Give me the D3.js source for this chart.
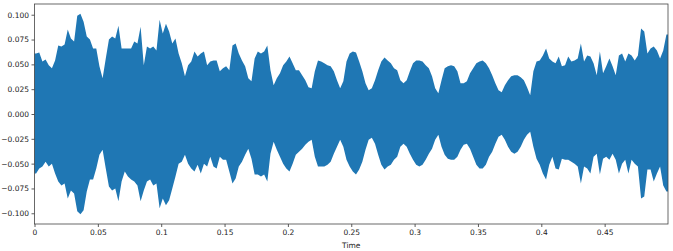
<!DOCTYPE html>
<html>
<head>
<meta charset="utf-8">
<script src="https://cdn.jsdelivr.net/npm/d3@7"></script>
<style>
  body { margin: 0; background: #fff; }
  svg text { font-family: 'DejaVu Sans', sans-serif; }
</style>
</head>
<body>
<div id="chart"></div>
<script>
// waveform envelope, one bin every 2.5 ms (0 .. 0.5 s)
var binSeconds = 0.0025
var upperEnv = [
  0.061, 0.062, 0.053, 0.055, 0.049, 0.046, 0.054, 0.069, 0.068, 0.070,
  0.085, 0.076, 0.073, 0.099, 0.101, 0.093, 0.078, 0.075, 0.066, 0.066,
  0.048, 0.036, 0.056, 0.075, 0.078, 0.076, 0.089, 0.066, 0.066, 0.066,
  0.066, 0.073, 0.071, 0.088, 0.049, 0.068, 0.066, 0.068, 0.064, 0.095,
  0.081, 0.091, 0.083, 0.071, 0.076, 0.061, 0.051, 0.038, 0.049, 0.053,
  0.063, 0.058, 0.061, 0.063, 0.049, 0.053, 0.054, 0.054, 0.043, 0.046,
  0.048, 0.044, 0.069, 0.071, 0.061, 0.054, 0.048, 0.036, 0.033, 0.056,
  0.063, 0.061, 0.063, 0.069, 0.044, 0.029, 0.036, 0.041, 0.049, 0.053,
  0.058, 0.051, 0.044, 0.044, 0.039, 0.034, 0.027, 0.026, 0.043, 0.054,
  0.053, 0.051, 0.049, 0.048, 0.043, 0.034, 0.026, 0.033, 0.053, 0.061,
  0.063, 0.062, 0.053, 0.043, 0.031, 0.024, 0.026, 0.034, 0.044, 0.053,
  0.057, 0.054, 0.051, 0.046, 0.044, 0.034, 0.031, 0.034, 0.043, 0.051,
  0.054, 0.054, 0.053, 0.049, 0.046, 0.038, 0.026, 0.021, 0.034, 0.046,
  0.048, 0.049, 0.048, 0.043, 0.031, 0.031, 0.033, 0.041, 0.046, 0.051,
  0.053, 0.054, 0.051, 0.046, 0.039, 0.031, 0.024, 0.022, 0.029, 0.034,
  0.038, 0.039, 0.039, 0.037, 0.034, 0.027, 0.019, 0.043, 0.053, 0.054,
  0.059, 0.066, 0.056, 0.053, 0.051, 0.058, 0.048, 0.049, 0.058, 0.053,
  0.054, 0.056, 0.071, 0.053, 0.059, 0.058, 0.051, 0.039, 0.063, 0.041,
  0.048, 0.056, 0.048, 0.039, 0.059, 0.061, 0.053, 0.061, 0.059, 0.054,
  0.059, 0.086, 0.083, 0.061, 0.066, 0.068, 0.064, 0.056, 0.064, 0.080
]
var lowerEnv = [
  -0.060, -0.055, -0.053, -0.048, -0.053, -0.050, -0.060, -0.068, -0.072, -0.070,
  -0.085, -0.077, -0.080, -0.098, -0.101, -0.097, -0.078, -0.066, -0.066, -0.055,
  -0.041, -0.036, -0.055, -0.073, -0.077, -0.075, -0.088, -0.068, -0.058, -0.063,
  -0.066, -0.068, -0.072, -0.088, -0.077, -0.068, -0.066, -0.072, -0.070, -0.095,
  -0.085, -0.092, -0.087, -0.075, -0.063, -0.050, -0.048, -0.041, -0.050, -0.055,
  -0.058, -0.051, -0.060, -0.050, -0.053, -0.043, -0.053, -0.055, -0.043, -0.046,
  -0.046, -0.058, -0.070, -0.065, -0.053, -0.048, -0.041, -0.035, -0.045, -0.061,
  -0.061, -0.063, -0.061, -0.068, -0.040, -0.028, -0.036, -0.043, -0.050, -0.055,
  -0.058, -0.050, -0.041, -0.038, -0.035, -0.031, -0.028, -0.026, -0.043, -0.053,
  -0.053, -0.053, -0.051, -0.048, -0.040, -0.033, -0.026, -0.033, -0.046, -0.053,
  -0.058, -0.061, -0.056, -0.048, -0.036, -0.026, -0.024, -0.030, -0.041, -0.051,
  -0.056, -0.053, -0.051, -0.046, -0.043, -0.033, -0.030, -0.033, -0.040, -0.046,
  -0.051, -0.053, -0.051, -0.046, -0.040, -0.035, -0.026, -0.021, -0.033, -0.041,
  -0.045, -0.046, -0.046, -0.043, -0.036, -0.031, -0.030, -0.035, -0.043, -0.051,
  -0.055, -0.055, -0.051, -0.043, -0.038, -0.030, -0.023, -0.021, -0.026, -0.033,
  -0.038, -0.040, -0.038, -0.033, -0.026, -0.021, -0.018, -0.033, -0.045, -0.051,
  -0.060, -0.066, -0.051, -0.043, -0.055, -0.056, -0.045, -0.046, -0.046, -0.048,
  -0.050, -0.053, -0.070, -0.053, -0.055, -0.060, -0.043, -0.040, -0.061, -0.045,
  -0.043, -0.046, -0.040, -0.046, -0.060, -0.050, -0.046, -0.060, -0.046, -0.050,
  -0.053, -0.085, -0.083, -0.056, -0.056, -0.068, -0.060, -0.053, -0.072, -0.078
]
var xTicks = [0, 0.05, 0.1, 0.15, 0.2, 0.25, 0.3, 0.35, 0.4, 0.45]
var yTicks = [-0.1, -0.075, -0.05, -0.025, 0, 0.025, 0.05, 0.075, 0.1]
var xLabel = 'Time'

var width = 673
var height = 251
var margin = { top: 4, right: 5, bottom: 27, left: 34.5 }
var duration = upperEnv.length * binSeconds

var svg = d3.select('#chart').append('svg')
  .attr('width', width)
  .attr('height', height)

var x = d3.scaleLinear()
  .domain([0, duration])
  .range([margin.left, width - margin.right])
var y = d3.scaleLinear()
  .domain([-0.1108, 0.1108])
  .range([height - margin.bottom, margin.top])

// each bin plotted at its centre, plus the two edges of the clip
var bins = upperEnv.map(function (u, i) {
  return { t: (i + 0.5) * binSeconds, hi: u, lo: lowerEnv[i] }
})
bins.unshift({ t: 0, hi: upperEnv[0], lo: lowerEnv[0] })
bins.push({ t: duration, hi: upperEnv[upperEnv.length - 1], lo: lowerEnv[lowerEnv.length - 1] })

var area = d3.area()
  .curve(d3.curveLinear)
  .x(function (d) { return x(d.t) })
  .y0(function (d) { return y(d.lo) })
  .y1(function (d) { return y(d.hi) })

svg.append('path')
  .datum(bins)
  .attr('fill', '#1f77b4')
  .attr('d', area)

// axes
var fmtX = function (d) { return String(+d.toFixed(2)) }
var fmtY = function (d) { return d3.format('.3f')(d).replace('-', '\u2212') }

var xAxis = svg.append('g')
  .attr('transform', 'translate(0,' + (height - margin.bottom) + ')')
  .call(d3.axisBottom(x).tickValues(xTicks).tickFormat(fmtX).tickSize(3).tickPadding(2.5))
var yAxis = svg.append('g')
  .attr('transform', 'translate(' + margin.left + ',0)')
  .call(d3.axisLeft(y).tickValues(yTicks).tickFormat(fmtY).tickSize(3).tickPadding(2.5))

svg.selectAll('.domain').remove()
;[xAxis, yAxis].forEach(function (g) {
  g.selectAll('text').attr('font-size', 7.5).attr('fill', '#222').attr('font-family', 'DejaVu Sans')
  g.selectAll('line').attr('stroke', '#333').attr('stroke-width', 0.8)
})

// frame
svg.append('rect')
  .attr('x', margin.left)
  .attr('y', margin.top)
  .attr('width', width - margin.left - margin.right)
  .attr('height', height - margin.top - margin.bottom)
  .attr('fill', 'none')
  .attr('stroke', '#444')
  .attr('stroke-width', 0.8)

svg.append('text')
  .attr('x', (margin.left + width - margin.right) / 2)
  .attr('y', height - 3.5)
  .attr('text-anchor', 'middle')
  .attr('font-size', 7.5)
  .attr('fill', '#222')
  .text(xLabel)
</script>
</body>
</html>
